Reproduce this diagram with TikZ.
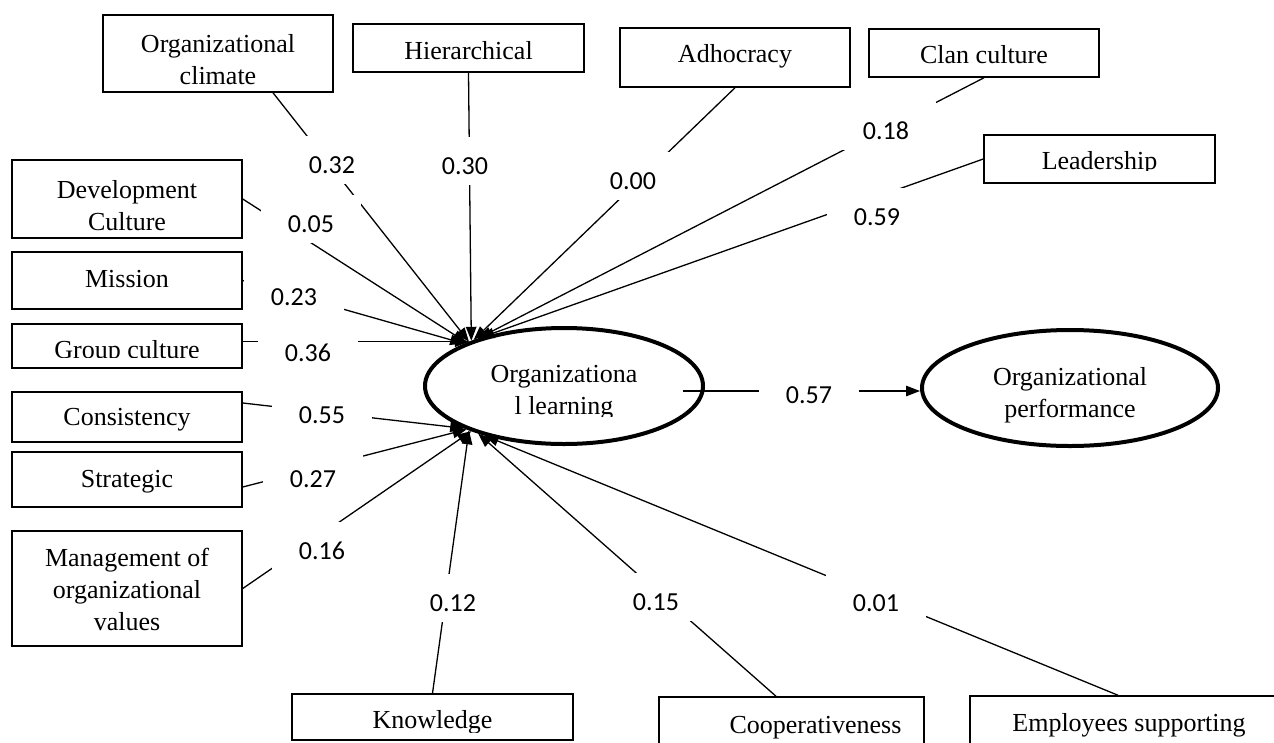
\documentclass[tikz,border=0pt]{standalone}
\usepackage{fontspec}
\setmainfont{Liberation Serif}
\newfontfamily\labfont{Carlito}
\usetikzlibrary{arrows.meta,calc,shapes.geometric}
\begin{document}
\begin{tikzpicture}[x=1pt,y=-1pt,
  bx/.style={draw, line width=1.5pt, inner sep=0pt, text depth=6pt, font=\fontsize{26pt}{32pt}\selectfont},
  bxm/.style={draw, line width=1.5pt, inner sep=0pt, align=center, font=\fontsize{26pt}{32pt}\selectfont},
  lv/.style={ellipse, draw, line width=4pt, inner sep=0pt, align=center, font=\fontsize{26pt}{32pt}\selectfont},
  con/.style={line width=1.3pt, -{Triangle[length=14pt,width=10.5pt]}},
  lab/.style={fill=white, inner sep=0pt, minimum width=100pt, text height=37.5pt, text depth=10.5pt, anchor=base, font=\labfont\fontsize{26pt}{30pt}\selectfont},
  cover/.style={fill=white, draw=none}
]
\useasboundingbox (0,0) rectangle (1274,742);
\clip (0,0) rectangle (1274,742);
\fill[white] (0,0) rectangle (1274,742);

% boxes
\node[bxm, minimum width=230pt, minimum height=77pt] (oc) at (218,53.5) {\rule{0pt}{31pt}Organizational\\climate};
\node[bx, minimum width=231pt, minimum height=48pt, text height=28.2pt] (hier) at (468.5,48) {Hierarchical};
\node[bx, minimum width=230pt, minimum height=59pt, text height=16.2pt] (adh) at (735,57.5) {Adhocracy};
\node[bx, minimum width=230pt, minimum height=48pt, text height=27.2pt] (clan) at (984,53) {Clan culture};
\node[bx, minimum width=231pt, minimum height=48pt, text height=27.2pt] (lead) at (1099.5,159) {Leadership};
\node[bxm, minimum width=230pt, minimum height=78pt] (dev) at (127,199) {\rule{0pt}{31pt}Development\\Culture};
\node[bx, minimum width=230pt, minimum height=57pt, text height=19.2pt] (mis) at (127,280.5) {Mission};
\node[bx, minimum width=230pt, minimum height=44pt, text height=31.2pt] (grp) at (127,346) {Group culture};
\node[bx, minimum width=230pt, minimum height=50pt, text height=22.2pt] (cons) at (127,417) {Consistency};
\node[bx, minimum width=230pt, minimum height=55pt, text height=21.2pt] (strat) at (127,479.5) {Strategic};
\node[bxm, minimum width=230pt, minimum height=115pt] (mgmt) at (127,588.5) {\rule{0pt}{20.8pt}Management of\\organizational\\values};
\node[bx, minimum width=281pt, minimum height=46pt, text height=29.2pt] (know) at (432.5,717) {Knowledge};
\node[bx, minimum width=265pt, minimum height=56pt, text height=23.2pt] (coop) at (791.5,725) {\hspace*{48pt}Cooperativeness};
\node[bx, minimum width=318pt, minimum height=56pt, text height=21.2pt] (emp) at (1129,724) {Employees supporting};

% latent variables
\node[lv, minimum width=278pt, minimum height=116pt] (OL) at (564,386) {\rule{0pt}{29.8pt}Organizationa\\l learning};
\node[lv, minimum width=296pt, minimum height=116pt] (OP) at (1070,388) {\rule{0pt}{31.8pt}Organizational\\performance};

% connectors
\draw[con] ($(oc.south)+(55,0)$) -- (OL.155);
\draw[con] (hier.south) -- (OL.154);
\draw[con] (adh.south) -- (OL.153);
\draw[con] (clan.south) -- (OL.151);
\draw[con] (lead.west) -- (OL.150);
\draw[con] (dev.east) -- (OL.156);
\draw[con] (mis.east) -- (OL.157);
\draw[con] (grp.east |- OL.155) -- (OL.155);
\draw[con] ($(cons.east)+(0,-14)$) -- (OL.203);
\draw[con] ($(strat.east)+(0,7.5)$) -- (OL.204);
\draw[con] (mgmt.east) -- (OL.206);
\draw[con] (know.north) -- (OL.205);
\draw[con] ($(coop.north)+(-15.5,0)$) -- (OL.209);
\draw[con] ($(emp.north)+(-11,0)$) -- (OL.212);
\draw[con] ($(OL.east)+(-22,5)$) -- ($(OP.west)+(0,3)$);

% coefficients
\node[lab] (l1) at (332,173.2) {0.32};
\node[lab] (l2) at (465,174.2) {0.30};
\node[lab] (l3) at (633,189.2) {0.00};
\node[lab] (l4) at (886,139.2) {0.18};
\node[lab] (l5) at (877,225.2) {0.59};
\node[lab] (l6) at (311,232.2) {0.05};
\node[lab] (l7) at (294,305.2) {0.23};
\node[lab] (l8) at (308,361.2) {0.36};
\node[lab] (l9) at (322,423.2) {0.55};
\node[lab] (l10) at (313,487.2) {0.27};
\node[lab] (l11) at (322,559.2) {0.16};
\node[lab] (l12) at (453,611.2) {0.12};
\node[lab] (l13) at (656,610.2) {0.15};
\node[lab] (l14) at (876,611.2) {0.01};
\node[lab] (l15) at (809,403.2) {0.57};

% text clipped by the original text boxes
\fill[cover] (13.5,357.6) rectangle (240.5,366.6);
\fill[cover] (985.5,171) rectangle (1213.5,182);
\fill[cover] (515,417) rectangle (615,428);
\fill[cover] (294,732.5) rectangle (571,738.5);
\end{tikzpicture}
\end{document}
